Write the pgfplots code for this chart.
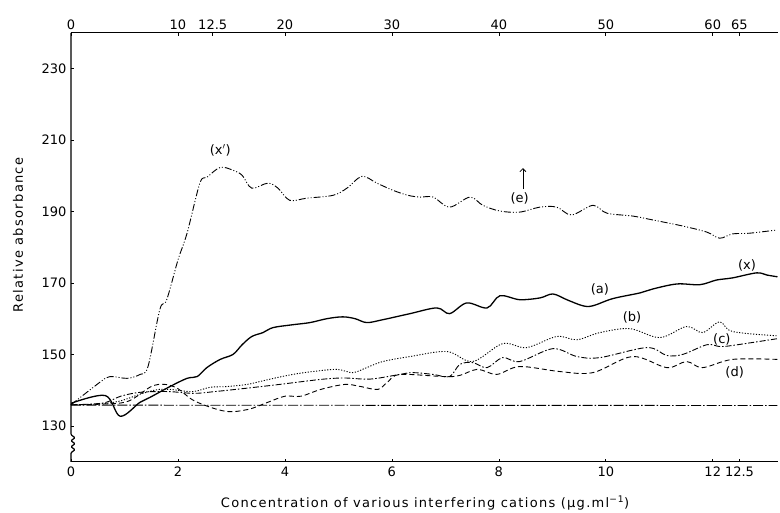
\documentclass[border=0pt]{standalone}
\usepackage{fontspec}
\setmainfont{DejaVu Sans}
\newfontfamily\spaced[LetterSpace=10]{DejaVu Sans}
\usepackage{pgfplots}
\pgfplotsset{compat=1.18}
\usetikzlibrary{arrows.meta}

% measured curves
\pgfplotstableread{
x y
0 136
0.54 142.3
0.73 143.9
1.05 143.4
1.29 144.5
1.44 146.7
1.66 162.6
1.79 165.4
2.0 176.5
2.17 184.0
2.41 198.0
2.54 199.6
2.79 202.4
3.03 201.6
3.20 200.2
3.38 196.6
3.68 198.0
3.87 196.6
4.09 193.2
4.41 193.8
4.90 194.6
5.16 196.6
5.44 199.9
5.72 198.0
6.02 196.0
6.30 194.6
6.52 194.1
6.77 194.1
7.08 191.3
7.46 194.1
7.70 191.8
8.02 190.2
8.39 189.9
8.77 191.3
9.08 191.3
9.36 189.1
9.76 191.8
10.02 189.6
10.50 188.8
10.88 187.7
11.44 186.0
11.89 184.3
12.13 182.6
12.37 183.8
12.69 184.0
13.2 184.9
}\curvee

\pgfplotstableread{
x y
0 136.4
0.64 138.6
0.92 132.8
1.29 136.7
1.48 138.1
1.85 141.1
2.17 143.4
2.36 143.9
2.54 146.4
2.79 148.7
3.03 150.1
3.20 152.8
3.38 155.1
3.59 156.2
3.78 157.6
4.15 158.4
4.47 159.0
4.79 160.1
5.08 160.6
5.31 160.1
5.53 159.0
5.83 159.8
6.34 161.5
6.84 163.1
7.08 161.5
7.40 164.5
7.78 163.1
8.02 166.5
8.39 165.4
8.77 165.9
9.01 167.0
9.27 165.4
9.57 163.7
9.76 163.7
10.13 165.7
10.64 167.3
10.88 168.4
11.33 169.8
11.76 169.6
12.07 170.9
12.37 171.5
12.82 172.9
13.01 172.3
13.21 171.8
}\curvea

\pgfplotstableread{
x y
0 136
0.5 136.2
0.9 137
1.3 139
1.6 140.2
1.85 140.3
2.28 139.7
2.60 140.9
2.92 141.1
3.29 141.7
3.53 142.5
3.85 143.6
4.15 144.5
4.52 145.3
4.97 145.9
5.27 145.0
5.53 146.4
5.83 148.1
6.34 149.5
7.03 150.9
7.51 148.1
8.07 153.1
8.52 152.0
9.08 155.1
9.46 154.2
9.89 156.2
10.45 157.3
11.01 154.8
11.51 157.9
11.81 156.2
12.13 159.2
12.37 156.5
13.2 155.3
}\curveb

\pgfplotstableread{
x y
0 136
0.6 136.5
0.93 138.4
1.3 139.5
1.81 139.7
2.3 139.2
2.69 139.7
3.2 140.5
3.9 141.7
4.67 143.1
5.1 143.5
5.6 143.2
6.15 144.5
6.39 145.0
6.77 144.5
7.08 143.9
7.27 147.3
7.51 147.8
7.78 146.4
8.07 149.2
8.39 148.1
9.01 151.7
9.46 149.5
9.89 149.2
10.77 152.0
11.14 149.8
11.44 150.1
11.89 152.8
12.13 152.3
12.37 152.6
13.21 154.5
}\curvec

\pgfplotstableread{
x y
0 136
0.6 136.2
1.07 137
1.5 141.1
1.76 141.7
2.0 140.5
2.32 137.0
2.88 134.2
3.31 134.7
3.68 136.7
4.0 138.4
4.3 138.4
4.67 140.3
5.12 141.7
5.42 141.1
5.74 140.3
5.93 142.5
6.17 144.5
7.14 143.9
7.59 145.9
7.96 144.5
8.39 146.7
9.14 145.3
9.76 145.0
10.50 149.5
11.14 146.4
11.51 148.1
11.81 146.4
12.37 148.7
13.21 148.7
}\curved

\begin{document}
\begin{tikzpicture}[font=\fontsize{13}{15}\selectfont]
\begin{axis}[
  name=main,
  scale only axis, width=707pt, height=429pt,
  xmin=0, xmax=13.22, ymin=120, ymax=240,
  axis x line*=bottom, axis y line*=left,
  y axis line style={draw=none},
  x axis line style={-, line width=1pt},
  xtick={0,2,4,6,8,10,12,12.5},
  xticklabels={0,2,4,6,8,10,12,12.5},
  ytick={130,150,...,230},
  yticklabels={130,150,170,190,210,230},
  /pgf/number format/assume math mode=true,
  tick align=inside, major tick length=3pt,
  tick style={line width=0.6pt, black},
  xticklabel style={yshift=-1pt},
  yticklabel style={xshift=-1pt},
  clip=false,
  every axis plot/.append style={black, smooth, tension=0.55},
]
\addplot[line width=0.9pt, dash pattern=on 7pt off 2pt on 1pt off 2pt on 1pt off 2pt] table {\curvee};
\addplot[line width=1.3pt] table {\curvea};
\addplot[line width=0.9pt, dash pattern=on 1.2pt off 1.6pt] table {\curveb};
\addplot[line width=0.9pt, dash pattern=on 6pt off 2pt on 1.5pt off 2pt] table {\curvec};
\addplot[line width=0.9pt, dash pattern=on 5pt off 3pt] table {\curved};
% reference level
\addplot[line width=0.9pt, sharp plot, dash pattern=on 10pt off 2pt on 1.5pt off 2pt] coordinates {(0,135.9) (13.21,135.8)};

% left axis with a break
\draw[line width=1.2pt, rounded corners=0.8pt] (axis cs:0,120) -- (axis cs:0,122.6)
  -- ++(4pt,3pt) -- ++(-4pt,3pt) -- ++(4pt,3pt) -- ++(-4pt,3pt) -- ++(4pt,3pt) -- ++(-4pt,3pt)
  -- (axis cs:0,240);

% curve labels
\node at (axis cs:2.79,207.2) {(x$'$)};
\node at (axis cs:8.39,193.8) {(e)};
\draw[line width=0.8pt, -{Straight Barb[length=3pt]}] (axis cs:8.45,196.3) -- (axis cs:8.45,202.2);
\node at (axis cs:9.89,168.2) {(a)};
\node at (axis cs:12.64,175.1) {(x)};
\node at (axis cs:10.49,160.4) {(b)};
\node at (axis cs:12.17,154.2) {(c)};
\node at (axis cs:12.41,145.0) {(d)};

% axis titles
\node at ([yshift=-41pt]axis cs:6.62,120) {\spaced Concentration of various interfering cations (µg.ml\textsuperscript{−1})};
\node[rotate=90] at ([xshift=-53pt]axis cs:0,183.5) {\spaced Relative absorbance};
\end{axis}

\begin{axis}[
  scale only axis, width=707pt, height=429pt,
  xmin=0, xmax=13.22, ymin=120, ymax=240,
  axis x line*=top, hide y axis,
  x axis line style={-, line width=1pt},
  xtick={0,2,2.65,4,6,8,10,12,12.5},
  xticklabels={0,10,12.5,20,30,40,50,60,65},
  /pgf/number format/assume math mode=true,
  tick align=inside, major tick length=3pt,
  tick style={line width=0.6pt, black},
]
\end{axis}
\pgfresetboundingbox
\path (-71pt,-51pt) rectangle (709pt,462pt);
\end{tikzpicture}
\end{document}
